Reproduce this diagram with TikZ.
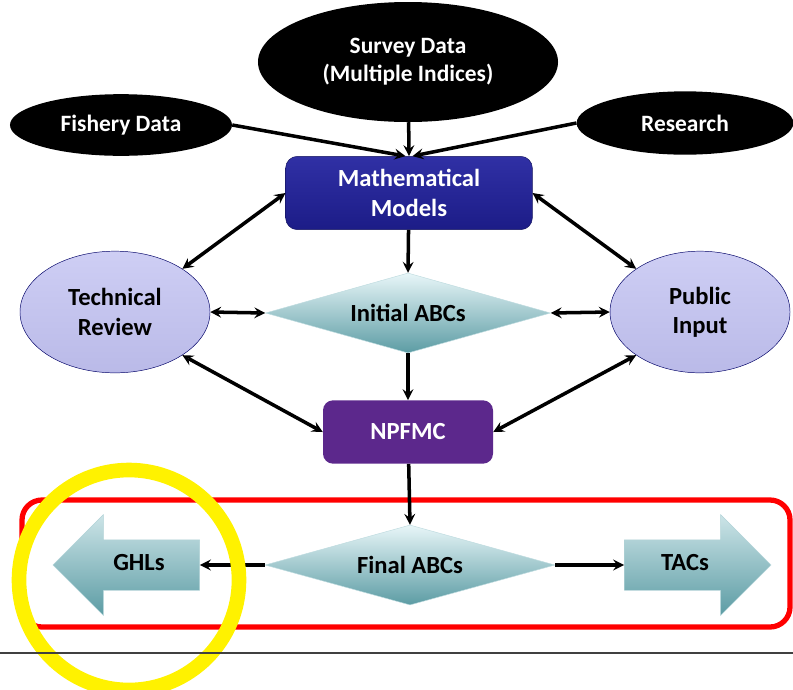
\documentclass[tikz,border=0pt]{standalone}
\usepackage{fontspec}
\setmainfont{Carlito}
\usetikzlibrary{shapes.geometric, shapes.arrows, arrows}
\definecolor{mathtop}{RGB}{48,48,165}
\definecolor{mathbot}{RGB}{28,28,135}
\definecolor{council}{RGB}{92,40,140}
\definecolor{lavtop}{RGB}{206,206,244}
\definecolor{lavbot}{RGB}{186,186,232}
\definecolor{tealtop}{RGB}{232,246,248}
\definecolor{tealbot}{RGB}{92,156,164}
\tikzstyle{source} = [ellipse, fill=black, text=white, inner sep=0pt, align=center, font=\bfseries\fontsize{20}{24}\selectfont]
\tikzstyle{model} = [rectangle, rounded corners=0.35cm, draw=mathbot!70!black, top color=mathtop, bottom color=mathbot, text=white, align=center, font=\bfseries\fontsize{21}{25}\selectfont]
\tikzstyle{party} = [ellipse, draw=black!60!blue, top color=lavtop, bottom color=lavbot, inner sep=0pt, align=center, font=\bfseries\fontsize{21}{25}\selectfont]
\tikzstyle{abc} = [diamond, draw=tealtop!70!tealbot, top color=tealtop, bottom color=tealbot, inner sep=0pt, aspect=3.6, font=\bfseries\fontsize{21}{25}\selectfont]
\tikzstyle{outcome} = [single arrow, single arrow head extend=0.75cm, draw=tealtop!60!tealbot, top color=tealtop!80!tealbot, bottom color=tealbot, text height=0.45cm, text depth=0.1cm, inner ysep=0.475cm, inner xsep=0pt, minimum height=4.4cm, font=\bfseries\fontsize{21}{25}\selectfont]
\tikzstyle{arrow} = [line width=3pt,->,>=stealth]
\tikzstyle{twoway} = [line width=3pt,<->,>=stealth]

\begin{document}
\begin{tikzpicture}[x=0.03cm, y=-0.03cm]
\useasboundingbox (0,0) rectangle (793,689);

\node(survey)[source, minimum width=9cm, minimum height=3.6cm] at (408,62) {Survey Data\\(Multiple Indices)};
\node(fishery)[source, minimum width=6.66cm, minimum height=1.85cm] at (121,125) {Fishery Data};
\node(research)[source, minimum width=6.5cm, minimum height=1.9cm] at (685,123) {Research};

\node(math)[model, minimum width=7.4cm, minimum height=2.2cm] at (409,193) {Mathematical\\Models};
\node(tech)[party, minimum width=5.7cm, minimum height=3.65cm] at (115,312) {Technical\\Review};
\node(public)[party, minimum width=5.4cm, minimum height=3.65cm] at (700,312) {Public\\Input};
\node(initial)[abc, minimum width=8.55cm, minimum height=2.4cm] at (408,313) {Initial ABCs};
\node(npfmc)[rectangle, rounded corners=0.3cm, fill=council, text=white, minimum width=5.1cm, minimum height=1.9cm, font=\bfseries\fontsize{21}{25}\selectfont] at (408,432) {NPFMC};

% bottom row
\draw[red, line width=4.5pt, rounded corners=0.6cm] (22,500) rectangle (790,627);
\node(final)[abc, minimum width=8.7cm, minimum height=2.4cm] at (410,565) {Final ABCs};
\node(ghl)[outcome, shape border rotate=180] at (139,565) {GHLs};
\node(tac)[outcome] at (685,565) {TACs};

\draw[arrow] (fishery.east) -- ([xshift=-3pt]math.north);
\draw[arrow] (research.west) -- ([xshift=3pt]math.north);
\draw[arrow] (survey) -- (math.north);
\draw[twoway] (math.west) -- (tech.north east);
\draw[twoway] (math.east) -- (public.north west);
\draw[arrow] (math) -- (initial.north);
\draw[twoway] (tech.east) -- (initial.west);
\draw[twoway] (public.west) -- (initial.east);
\draw[arrow] (initial) -- (npfmc);
\draw[twoway] (tech.south east) -- (npfmc.west);
\draw[twoway] (public.south west) -- (npfmc.east);
\draw[arrow] (npfmc) -- (final.north);
\draw[arrow] (final.west) -- (ghl.tail);
\draw[arrow] (final.east) -- (tac.tail);

\draw[yellow, line width=12.5pt] (129,580) circle (3.3cm);
\draw[black!75, line width=1pt] (0,653) -- (793,653);

\end{tikzpicture}
\end{document}
